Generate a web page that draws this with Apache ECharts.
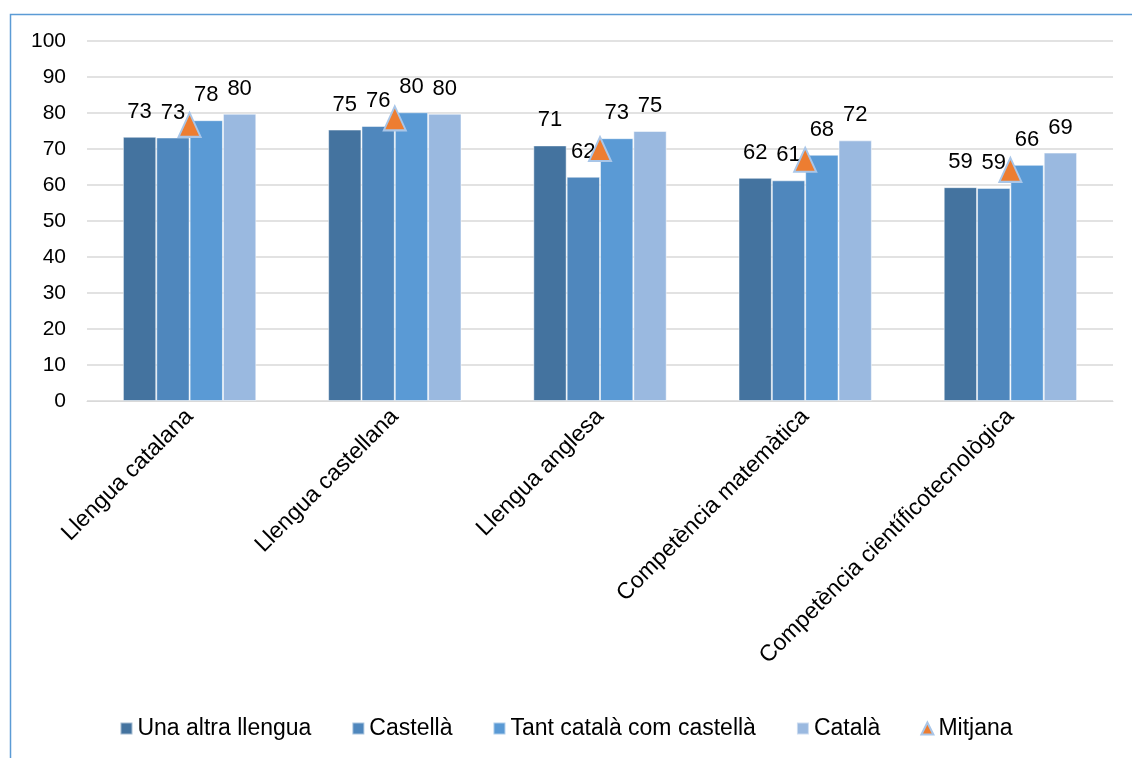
<!DOCTYPE html>
<html>
<head>
<meta charset="utf-8">
<script src="https://cdn.jsdelivr.net/npm/echarts@6/dist/echarts.min.js"></script>
<style>
  html, body { margin: 0; padding: 0; background: #fff; }
  #chart { width: 1132px; height: 758px; }
</style>
</head>
<body>
<div id="chart"></div>
<script>
var categories = ["Llengua catalana", "Llengua castellana", "Llengua anglesa", "Competència matemàtica", "Competència científicotecnològica"];
var altraLlengua = [73.4, 75.4, 71.0, 62.0, 59.4];
var castella = [73.2, 76.4, 62.3, 61.3, 59.2];
var tantCatalaCastella = [78.0, 80.2, 73.0, 68.4, 65.6];
var catala = [79.8, 79.8, 75.0, 72.4, 69.0];
var mitjana = [76.7, 78.5, 70.0, 67.0, 64.2];

function init_chart(container) {
  var chartDom = document.getElementById(container);
  var myChart = echarts.init(chartDom);
  var font = "Liberation Sans, Arial, sans-serif";

  function barSeries(name, data, color) {
    return {
      name: name,
      type: "bar",
      data: data,
      barGap: "0%",
      barCategoryGap: "35%",
      itemStyle: { color: color, borderColor: "rgba(255,255,255,0.5)", borderWidth: 1 },
      label: {
        show: true,
        position: "top",
        distance: 14,
        color: "#000",
        fontSize: 22,
        fontFamily: font,
        formatter: function (p) { return Math.round(p.value); },
      },
    };
  }

  var option = {
    animation: false,
    textStyle: { fontFamily: font },
    graphic: [
      {
        type: "rect",
        left: 8,
        top: 12,
        shape: { width: 1140, height: 760 },
        style: { fill: "none", stroke: "#5B9BD5", lineWidth: 1.5 },
        z: -1,
      },
    ],
    grid: { left: 87, right: 19, top: 41, bottom: 357 },
    legend: {
      bottom: 13,
      left: "center",
      itemWidth: 12,
      itemHeight: 12,
      itemGap: 40,
      textStyle: { fontSize: 23, color: "#000", fontFamily: font },
      data: [
        { name: "Una altra llengua", icon: "rect" },
        { name: "Castellà", icon: "rect" },
        { name: "Tant català com castellà", icon: "rect" },
        { name: "Català", icon: "rect" },
        { name: "Mitjana", icon: "triangle" },
      ],
    },
    xAxis: {
      type: "category",
      data: categories,
      axisLine: { lineStyle: { color: "#d9d9d9" } },
      axisTick: { show: false },
      axisLabel: { rotate: 45, margin: 12, fontSize: 23, color: "#000", interval: 0 },
    },
    yAxis: {
      type: "value",
      min: 0,
      max: 100,
      interval: 10,
      axisLine: { show: false },
      axisTick: { show: false },
      axisLabel: { fontSize: 21, color: "#000", margin: 21 },
      splitLine: { lineStyle: { color: "#d9d9d9", width: 1.5 } },
    },
    series: [
      barSeries("Una altra llengua", altraLlengua, "#44739F"),
      barSeries("Castellà", castella, "#4F87BD"),
      barSeries("Tant català com castellà", tantCatalaCastella, "#5A9AD5"),
      barSeries("Català", catala, "#9AB9E0"),
      {
        name: "Mitjana",
        type: "scatter",
        data: mitjana,
        symbol: "triangle",
        symbolSize: [22, 24],
        itemStyle: { color: "#ED7D31", borderColor: "#A9C6E8", borderWidth: 2, opacity: 1 },
        z: 5,
      },
    ],
  };

  window.addEventListener("resize", function () {
    myChart.resize();
  });
  myChart.setOption(option);
}

init_chart("chart");
</script>
</body>
</html>
